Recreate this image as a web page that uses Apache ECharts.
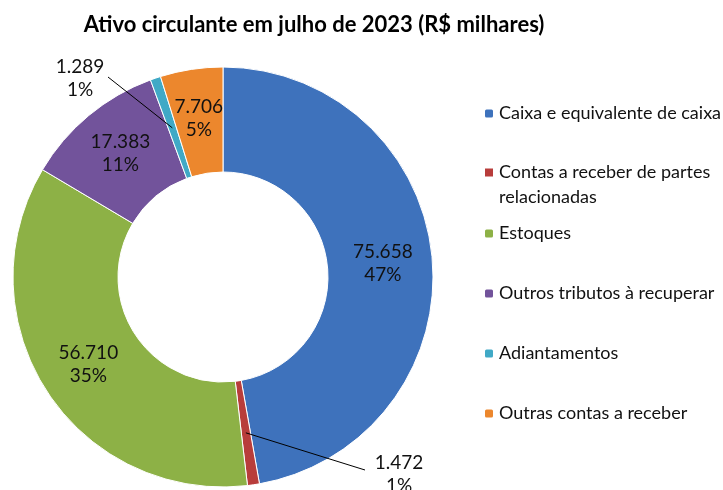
<!DOCTYPE html>
<html>
<head>
<meta charset="utf-8">
<script src="https://cdn.jsdelivr.net/npm/echarts@6/dist/echarts.min.js"></script>
<style>
  html, body { margin: 0; padding: 0; background: #fff; }
  #chart { width: 723px; height: 490px; }
</style>
</head>
<body>
<div id="chart"></div>
<script>
// data (R$ milhares)
const categories = [
  'Caixa e equivalente de caixa',
  'Contas a receber de partes relacionadas',
  'Estoques',
  'Outros tributos à recuperar',
  'Adiantamentos',
  'Outras contas a receber'
];
const values = [75.658, 1.472, 56.710, 17.383, 1.289, 7.706];
const colors = ['#3e72bc', '#b83d3b', '#8db146', '#72539b', '#40a9c6', '#ec872d'];

const cx = 223, cy = 277, rIn = 105, rOut = 210;

// small slices get their label outside with a leader line
const outsideLabels = {
  1: { x: 399, y: 474, lineEnd: [365, 470] },
  4: { x: 80, y: 78, lineEnd: [108, 77] }
};

const total = values.reduce((a, b) => a + b, 0);

// leader lines start at the middle of the slice
const leaderLines = [];
let cum = 0;
values.forEach((v, i) => {
  const mid = (cum + v / 2) / total * Math.PI * 2;
  cum += v;
  if (!outsideLabels[i]) return;
  const r = (rIn + rOut) / 2;
  leaderLines.push({
    type: 'line',
    z: 100,
    shape: {
      x1: cx + r * Math.sin(mid), y1: cy - r * Math.cos(mid),
      x2: outsideLabels[i].lineEnd[0], y2: outsideLabels[i].lineEnd[1]
    },
    style: { stroke: '#000', lineWidth: 1 }
  });
});

const legendText = { fontFamily: 'Lato', fontSize: 18, color: '#111', lineHeight: 25 };
// square drawn at the top of a tall icon so it sits on the first text line
const topSquare = 'path://M0,0h0.01v0.01h-0.01zM0,7.5h10v10h-10zM0,49.99h0.01v0.01h-0.01z';

const chart = echarts.init(document.getElementById('chart'));

const options = {
  color: colors,
  title: {
    text: 'Ativo circulante em julho de 2023 (R$ milhares)',
    left: 309,
    textAlign: 'center',
    top: 9,
    textStyle: { fontFamily: 'Lato', fontWeight: 'bold', fontSize: 22, color: '#000' }
  },
  legend: [
    {
      orient: 'vertical', left: 483, top: 101, padding: 0,
      itemWidth: 10, itemHeight: 10, itemGap: 5,
      data: categories.slice(0, 1),
      textStyle: legendText
    },
    {
      orient: 'vertical', left: 483, top: 159, padding: 0,
      itemWidth: 10, itemHeight: 50, itemGap: 5,
      data: [{ name: categories[1], icon: topSquare }],
      formatter: () => 'Contas a receber de partes\nrelacionadas',
      textStyle: legendText
    },
    {
      orient: 'vertical', left: 483, top: 221, padding: 0,
      itemWidth: 10, itemHeight: 10, itemGap: 35,
      data: categories.slice(2),
      textStyle: legendText
    }
  ],
  graphic: leaderLines,
  series: [
    {
      type: 'pie',
      center: [cx, cy],
      radius: [rIn, rOut],
      startAngle: 90,
      clockwise: true,
      avoidLabelOverlap: false,
      itemStyle: { borderColor: '#fff', borderWidth: 1 },
      label: {
        position: 'inside',
        fontFamily: 'Lato',
        fontSize: 19,
        lineHeight: 23,
        color: '#111',
        formatter: p => p.value.toFixed(3) + '\n' + Math.round(p.percent) + '%'
      },
      labelLayout: p => {
        const o = outsideLabels[p.dataIndex];
        return o ? { x: o.x, y: o.y, align: 'center', verticalAlign: 'middle' } : {};
      },
      labelLine: { show: false },
      data: categories.map((name, i) => ({ name: name, value: values[i] }))
    }
  ]
};

chart.setOption(options);
</script>
</body>
</html>
